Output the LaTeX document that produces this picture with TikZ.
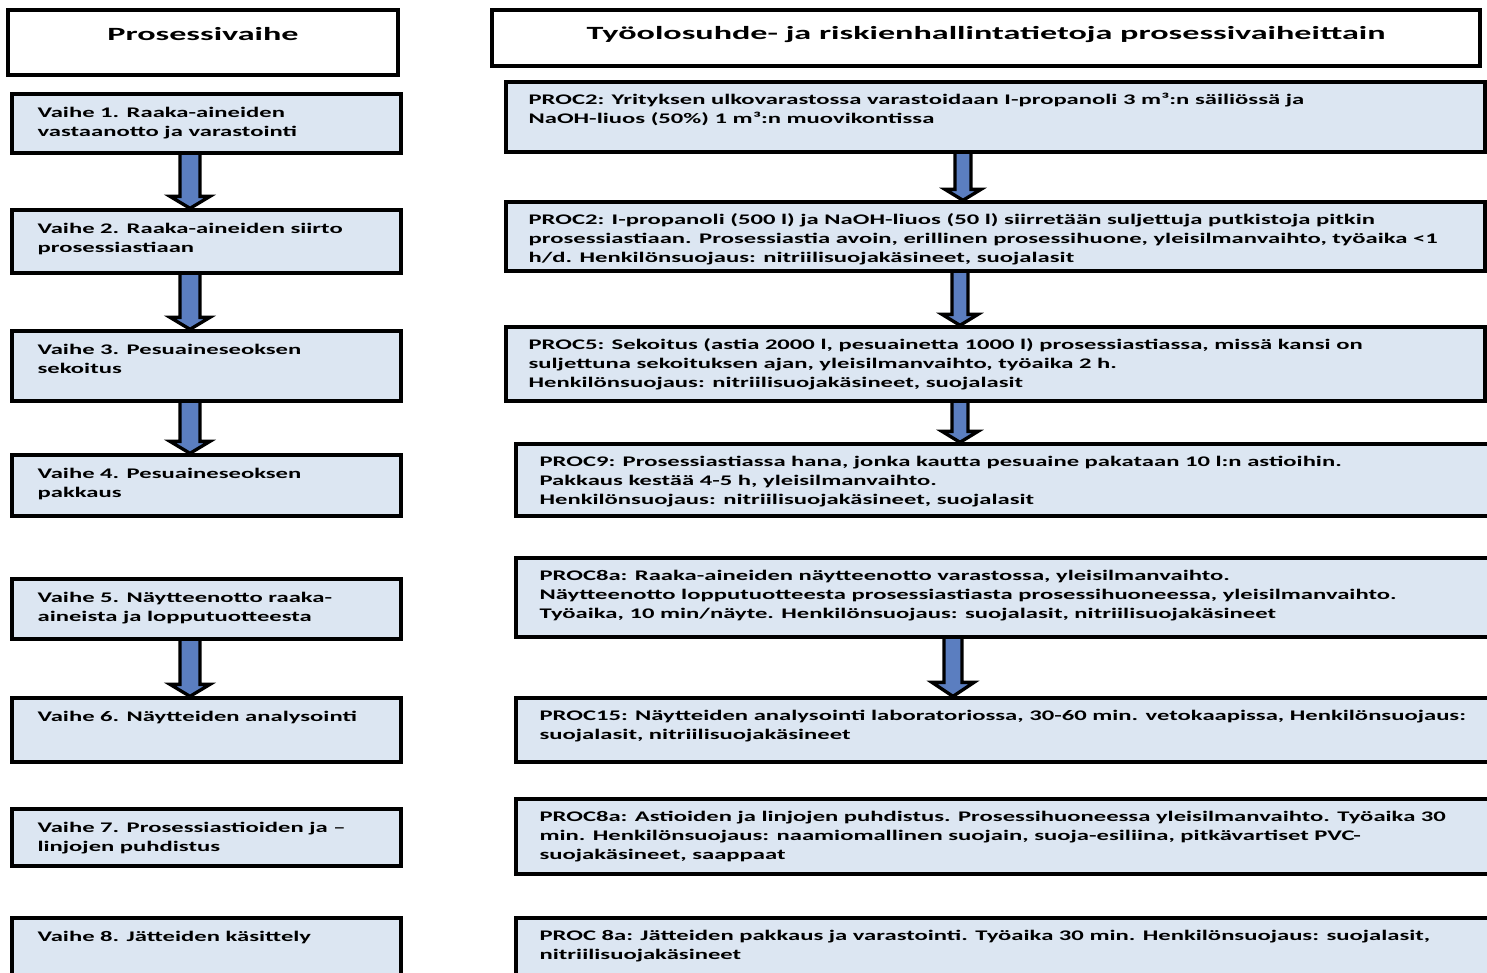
\documentclass[tikz,border=0pt]{standalone}
\usepackage{graphicx}
\usepackage{fontspec}
\setmainfont{Carlito}
\usetikzlibrary{positioning,fit,calc,backgrounds}

\definecolor{boxblue}{RGB}{220,230,242}
\definecolor{arrblue}{RGB}{91,126,192}

% text is wider than the font gives, so stretch it sideways
\newcommand{\sx}{1.68}
\newcommand{\boxtext}[1]{\scalebox{\sx}[1]{\begin{tabular}{@{}l@{}}#1\end{tabular}}}

% block arrow: x, from, to, shaft half width, head half width, head length
\newcommand{\blockarrow}[6]{%
    \coordinate (ax) at (#1,0);
    \draw[blockarr] ($(#2.south -| ax)+(-#4,0)$) -- ($(#3.north -| ax)+(-#4,-#6)$) -- ++(#4-#5,0)
        -- (#3.north -| ax) -- ($(#3.north -| ax)+(#5,-#6)$) -- ++(#4-#5,0) -- ($(#2.south -| ax)+(#4,0)$);
}

\tikzset{
    headbox/.style={draw=black, line width=2.5pt, fill=white, inner sep=0pt},
    stepbox/.style={headbox, fill=boxblue},
    steptext/.style={anchor=north west, inner sep=0pt, font=\bfseries\fontsize{11}{14.25}\selectfont},
    headtext/.style={inner sep=0pt, font=\bfseries\fontsize{14}{16}\selectfont},
    blockarr/.style={draw=black, line width=2.5pt, fill=arrblue, line join=miter},
}

\begin{document}
\begin{tikzpicture}[x=0.75pt, y=-0.75pt]
    \useasboundingbox (0,0) rectangle (1487,972);

    % headers
    \node[headbox, fit={(8,10) (398,75)}] (h1) {};
    \node[headbox, fit={(492,10) (1480,66)}] (h2) {};
    \node[headtext] (h1t) at ($(h1.north)+(0,26)$) {\scalebox{1.83}[1]{Prosessivaihe}};
    \node[headtext] (h2t) at ($(h2.north)+(0,26)$) {\scalebox{1.83}[1]{Työolosuhde- ja riskienhallintatietoja prosessivaiheittain}};

    % left column: the steps
    \node[stepbox, fit={(12,94) (401,153)}] (b1) {};
    \node[stepbox, fit={(12,210) (401,273)}] (b2) {};
    \node[stepbox, fit={(12,331) (401,401)}] (b3) {};
    \node[stepbox, fit={(12,455) (401,516)}] (b4) {};
    \node[stepbox, fit={(12,579) (401,639)}] (b5) {};
    \node[stepbox, fit={(12,698) (401,762)}] (b6) {};
    \node[stepbox, fit={(12,809) (401,866)}] (b7) {};
    \node[stepbox, fit={(12,918) (401,990)}] (b8) {};

    \node[steptext] (b1t) at ($(b1.north west)+(27,12)$) {\boxtext{Vaihe 1. Raaka-aineiden\\vastaanotto ja varastointi}};
    \node[steptext] (b2t) at ($(b2.north west)+(27,12)$) {\boxtext{Vaihe 2. Raaka-aineiden siirto\\prosessiastiaan}};
    \node[steptext] (b3t) at ($(b3.north west)+(27,12)$) {\boxtext{Vaihe 3. Pesuaineseoksen\\sekoitus}};
    \node[steptext] (b4t) at ($(b4.north west)+(27,12)$) {\boxtext{Vaihe 4. Pesuaineseoksen\\pakkaus}};
    \node[steptext] (b5t) at ($(b5.north west)+(27,12)$) {\boxtext{Vaihe 5. Näytteenotto raaka-\\aineista ja lopputuotteesta}};
    \node[steptext] (b6t) at ($(b6.north west)+(27,12)$) {\boxtext{Vaihe 6. Näytteiden analysointi}};
    \node[steptext] (b7t) at ($(b7.north west)+(27,12)$) {\boxtext{Vaihe 7. Prosessiastioiden ja –\\linjojen puhdistus}};
    \node[steptext] (b8t) at ($(b8.north west)+(27,12)$) {\boxtext{Vaihe 8. Jätteiden käsittely}};

    % right column: working conditions
    \node[stepbox, fit={(506,82) (1485,152)}] (r1) {};
    \node[stepbox, fit={(506,202) (1485,271)}] (r2) {};
    \node[stepbox, fit={(506,327) (1485,401)}] (r3) {};
    \node[stepbox, fit={(516,444) (1500,516)}] (r4) {};
    \node[stepbox, fit={(516,558) (1500,637)}] (r5) {};
    \node[stepbox, fit={(516,698) (1500,762)}] (r6) {};
    \node[stepbox, fit={(516,799) (1500,874)}] (r7) {};
    \node[stepbox, fit={(516,918) (1500,990)}] (r8) {};

    \node[steptext] (r1t) at ($(r1.north west)+(24,11)$) {\boxtext{PROC2: Yrityksen ulkovarastossa varastoidaan I-propanoli 3 m³:n säiliössä ja\\NaOH-liuos (50\%) 1 m³:n muovikontissa}};
    \node[steptext] (r2t) at ($(r2.north west)+(24,11)$) {\boxtext{PROC2: I-propanoli (500 l) ja NaOH-liuos (50 l) siirretään suljettuja putkistoja pitkin\\prosessiastiaan. Prosessiastia avoin, erillinen prosessihuone, yleisilmanvaihto, työaika <1\\h/d. Henkilönsuojaus: nitriilisuojakäsineet, suojalasit}};
    \node[steptext] (r3t) at ($(r3.north west)+(24,11)$) {\boxtext{PROC5: Sekoitus (astia 2000 l, pesuainetta 1000 l) prosessiastiassa, missä kansi on\\suljettuna sekoituksen ajan, yleisilmanvaihto, työaika 2 h.\\Henkilönsuojaus: nitriilisuojakäsineet, suojalasit}};
    \node[steptext] (r4t) at ($(r4.north west)+(25,11)$) {\boxtext{PROC9: Prosessiastiassa hana, jonka kautta pesuaine pakataan 10 l:n astioihin.\\Pakkaus kestää 4-5 h, yleisilmanvaihto.\\Henkilönsuojaus: nitriilisuojakäsineet, suojalasit}};
    \node[steptext] (r5t) at ($(r5.north west)+(25,11)$) {\boxtext{PROC8a: Raaka-aineiden näytteenotto varastossa, yleisilmanvaihto.\\Näytteenotto lopputuotteesta prosessiastiasta prosessihuoneessa, yleisilmanvaihto.\\Työaika, 10 min/näyte. Henkilönsuojaus: suojalasit, nitriilisuojakäsineet}};
    \node[steptext] (r6t) at ($(r6.north west)+(25,11)$) {\boxtext{PROC15: Näytteiden analysointi laboratoriossa, 30-60 min. vetokaapissa, Henkilönsuojaus:\\suojalasit, nitriilisuojakäsineet}};
    \node[steptext] (r7t) at ($(r7.north west)+(25,11)$) {\boxtext{PROC8a: Astioiden ja linjojen puhdistus. Prosessihuoneessa yleisilmanvaihto. Työaika 30\\min. Henkilönsuojaus: naamiomallinen suojain, suoja-esiliina, pitkävartiset PVC-\\suojakäsineet, saappaat}};
    \node[steptext] (r8t) at ($(r8.north west)+(25,11)$) {\boxtext{PROC 8a: Jätteiden pakkaus ja varastointi. Työaika 30 min. Henkilönsuojaus: suojalasit,\\nitriilisuojakäsineet}};

    % arrows go behind the boxes
    \begin{scope}[on background layer]
        \blockarrow{190}{b1}{b2}{10}{20}{12}
        \blockarrow{190}{b2}{b3}{10}{20}{12}
        \blockarrow{190}{b3}{b4}{10}{20}{12}
        \blockarrow{190}{b5}{b6}{10}{20}{12}
        \blockarrow{963}{r1}{r2}{8}{18}{11}
        \blockarrow{960}{r2}{r3}{8}{18}{11}
        \blockarrow{960}{r3}{r4}{8}{18}{11}
        \blockarrow{953}{r5}{r6}{9}{21}{14}
    \end{scope}
\end{tikzpicture}
\end{document}
